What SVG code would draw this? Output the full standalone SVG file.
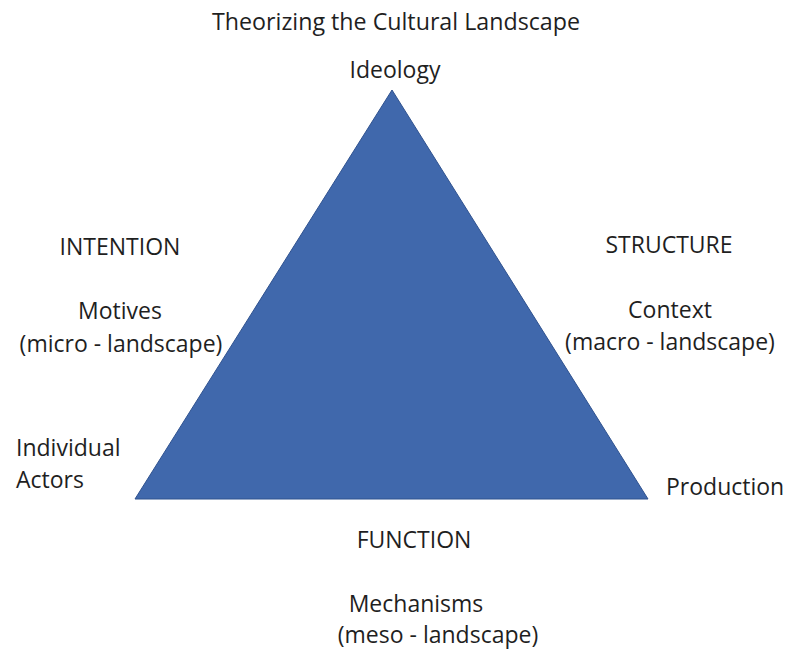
<svg xmlns="http://www.w3.org/2000/svg" width="788" height="649" viewBox="0 0 788 649">
<style>
text{font-family:"Open Sans","Noto Sans","Liberation Sans",sans-serif;font-size:23px;fill:#1f1f1f}
.m{text-anchor:middle}
</style>
<rect width="788" height="649" fill="#fff"/>
<g id="title"><text class="m" x="396" y="30" textLength="368" lengthAdjust="spacingAndGlyphs">Theorizing the Cultural Landscape</text></g>
<g id="triangle"><polygon points="392,90 135,499 648,499" fill="#4068AC" stroke="#2F528F" stroke-width="1"/></g>
<g id="ideology"><text class="m" x="395" y="78">Ideology</text></g>
<g id="intention"><text class="m" x="120" y="255">INTENTION</text>
<text class="m" x="120" y="319">Motives</text>
<text class="m" x="121" y="352">(micro - landscape)</text></g>
<g id="actors"><text x="16" y="456">Individual</text><text x="16" y="488">Actors</text></g>
<g id="structure"><text class="m" x="669" y="253">STRUCTURE</text>
<text class="m" x="670" y="318">Context</text>
<text class="m" x="670" y="350">(macro - landscape)</text></g>
<g id="production"><text x="666" y="495">Production</text></g>
<g id="function"><text class="m" x="414" y="548">FUNCTION</text>
<text class="m" x="416" y="612">Mechanisms</text>
<text class="m" x="438" y="643">(meso - landscape)</text></g>
</svg>
